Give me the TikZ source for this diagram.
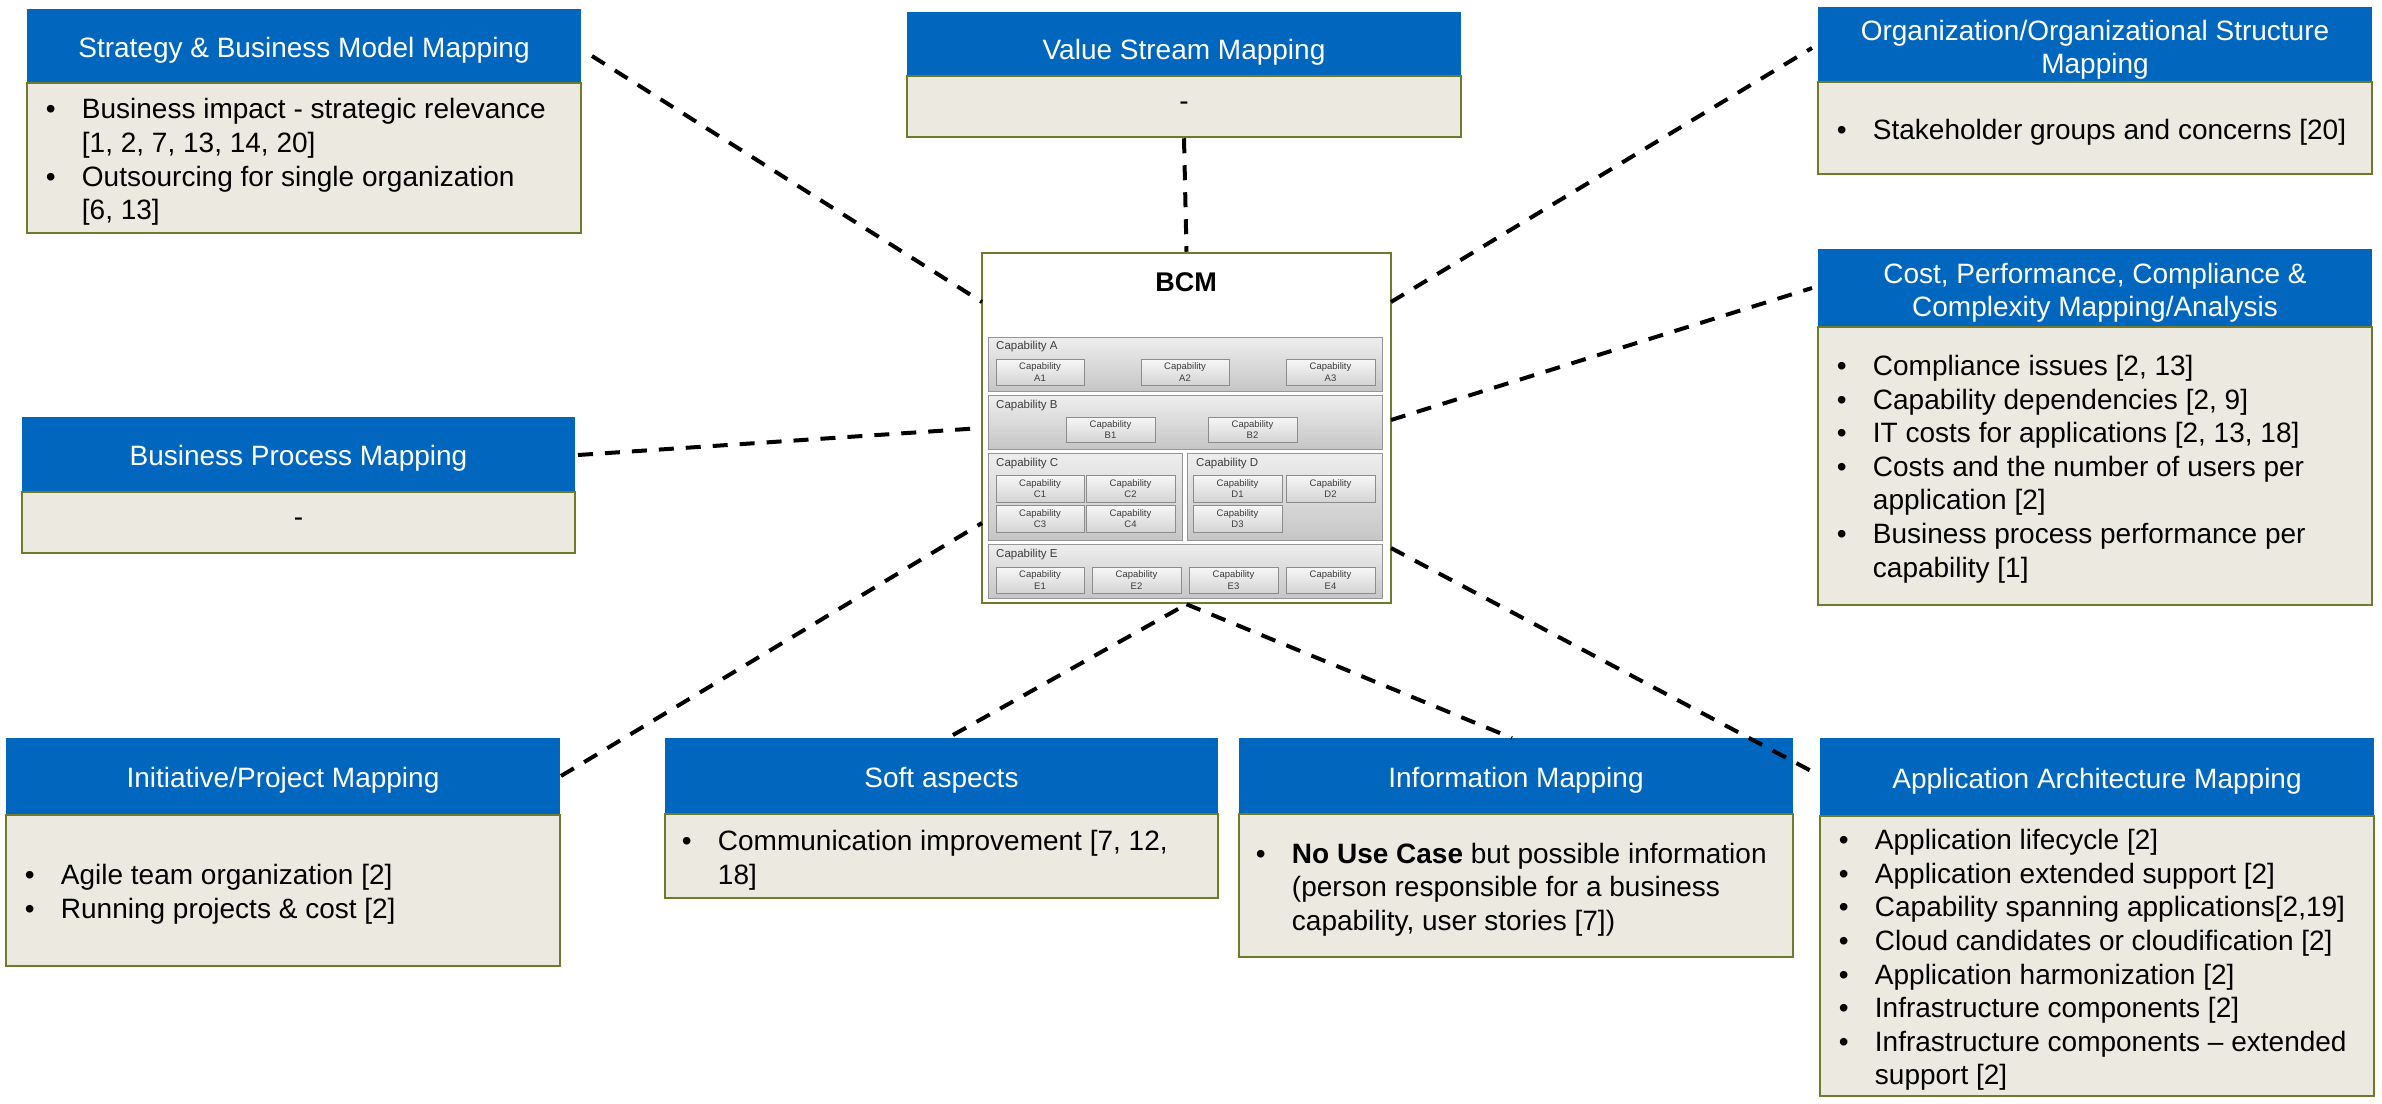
\documentclass[tikz,border=0pt]{standalone}
\usepackage{fontspec}
\setmainfont{Liberation Sans}
\usetikzlibrary{shadows}

\definecolor{hdrblue}{RGB}{0,102,190}
\definecolor{bodyfill}{RGB}{236,234,224}
\definecolor{olivebd}{RGB}{111,122,42}
\definecolor{rowtop}{RGB}{238,238,238}
\definecolor{rowbot}{RGB}{198,198,198}
\definecolor{rowline}{RGB}{150,150,150}
\definecolor{captop}{RGB}{247,247,247}
\definecolor{capbot}{RGB}{212,212,212}
\definecolor{capline}{RGB}{140,140,140}
\definecolor{captext}{RGB}{60,60,60}

% bullet and hanging indent for the item lists
\newcommand{\itembul}{\makebox[36pt][l]{\textbullet}}
\newcommand{\itemind}{\hspace*{36pt}}

% a panel: blue title bar above a framed body
% #1 name, #2 left, #3 right, #4 top, #5 title/body split, #6 bottom, #7 title, #8 title drop
\newcommand{\drawpanel}[8]{%
  \node[hdr, minimum width={#3-#2}, minimum height={#5-#4}] (#1-h) at ({(#2+#3)/2},{(#4+#5)/2}) {};
  \node[hdrtext] (#1-title) at ([yshift=-#8pt]#1-h.center) {#7};
  \node[bodybox, minimum width={#3-#2}, minimum height={#6-#5}] (#1) at ({(#2+#3)/2},{(#5+#6)/2}) {};
}

% a small capability tile inside the map
% #1 name, #2 left, #3 top, #4 right, #5 bottom, #6 id
\newcommand{\capbox}[6]{%
  \node[capin, minimum width={#4-#2}, minimum height={#5-#3}] (#1) at ({(#2+#4)/2},{(#3+#5)/2}) {Capability\\#6};
}

\begin{document}
\begin{tikzpicture}[x=1pt, y=-1pt,
  hdr/.style={fill=hdrblue, draw=none, inner sep=0pt},
  hdrtext/.style={text=white, inner sep=0pt, align=center,
    font=\fontsize{28}{33}\selectfont},
  bodybox/.style={fill=bodyfill, draw=olivebd, line width=2.5pt, inner sep=0pt},
  itemtext/.style={inner sep=0pt, align=left, text=black,
    font=\fontsize{28}{33.6}\selectfont},
  link/.style={draw=black, line width=4pt, dash pattern=on 15pt off 12pt},
  row/.style={draw=rowline, line width=0.8pt, top color=rowtop, bottom color=rowbot, inner sep=0pt},
  capin/.style={draw=capline, line width=0.6pt, top color=captop, bottom color=capbot,
    inner sep=0pt, align=center, text=captext, font=\fontsize{9.5}{11.5}\selectfont,
    drop shadow={shadow xshift=1.2pt, shadow yshift=-1.2pt, opacity=0.3, fill=black}},
  rowlabel/.style={anchor=west, inner sep=0pt, text=captext, font=\fontsize{11.5}{13}\selectfont}
]
\useasboundingbox (0,0) rectangle (2382,1103);
\fill[white] (0,0) rectangle (2382,1103);

% ---------- business capability map ----------
\node[draw=olivebd, line width=2.5pt, fill=white, minimum width=409, minimum height=350, inner sep=0pt]
  (bcm) at (1186.5,428) {};
\node[inner sep=0pt, font=\bfseries\fontsize{27}{30}\selectfont] (bcm-title) at (1186,282) {BCM};

\node[row, minimum width=394, minimum height=54] (capA) at (1185,364) {};
\node[row, minimum width=394, minimum height=54] (capB) at (1185,422) {};
\node[row, minimum width=194, minimum height=87] (capC) at (1085,496.5) {};
\node[row, minimum width=195, minimum height=87] (capD) at (1284.5,496.5) {};
\node[row, minimum width=394, minimum height=54] (capE) at (1185,571) {};

\node[rowlabel] (capA-l) at (996,347) {Capability A};
\node[rowlabel] (capB-l) at (996,406) {Capability B};
\node[rowlabel] (capC-l) at (996,464) {Capability C};
\node[rowlabel] (capD-l) at (1196,464) {Capability D};
\node[rowlabel] (capE-l) at (996,555) {Capability E};

\capbox{capA1}{996}{359}{1084}{385}{A1}
\capbox{capA2}{1141}{359}{1229}{385}{A2}
\capbox{capA3}{1286}{359}{1375}{385}{A3}
\capbox{capB1}{1066}{417}{1155}{442}{B1}
\capbox{capB2}{1208}{417}{1297}{442}{B2}
\capbox{capC1}{996}{475}{1084}{502}{C1}
\capbox{capC2}{1086}{475}{1175}{502}{C2}
\capbox{capC3}{996}{505}{1084}{532}{C3}
\capbox{capC4}{1086}{505}{1175}{532}{C4}
\capbox{capD1}{1193}{475}{1282}{502}{D1}
\capbox{capD2}{1286}{475}{1375}{502}{D2}
\capbox{capD3}{1193}{505}{1282}{532}{D3}
\capbox{capE1}{996}{567}{1084}{593}{E1}
\capbox{capE2}{1092}{567}{1181}{593}{E2}
\capbox{capE3}{1189}{567}{1278}{593}{E3}
\capbox{capE4}{1286}{567}{1375}{593}{E4}

% ---------- surrounding panels ----------
\drawpanel{strat}{27}{581}{9}{83}{233}{Strategy \& Business Model Mapping}{4}
\drawpanel{vsm}{907}{1461}{12}{76}{137}{Value Stream Mapping}{8}
\drawpanel{org}{1818}{2372}{7}{82}{174}{Organization/Organizational Structure\\Mapping}{5}
\drawpanel{cost}{1818}{2372}{249}{327}{605}{Cost, Performance, Compliance \&\\Complexity Mapping/Analysis}{5}
\drawpanel{bpm}{22}{575}{417}{492}{553}{Business Process Mapping}{4}
\drawpanel{init}{6}{560}{738}{815}{966}{Initiative/Project Mapping}{4}
\drawpanel{soft}{665}{1218}{738}{814}{898}{Soft aspects}{4}
\drawpanel{info}{1239}{1793}{738}{814}{957}{Information Mapping}{4}
\drawpanel{app}{1820}{2374}{738}{816}{1096}{Application Architecture Mapping}{4}

\node[itemtext, anchor=west] (strat-t) at ([xshift=20pt, yshift=-4pt]strat.west)
  {\itembul Business impact - strategic relevance\\
   \itemind [1, 2, 7, 13, 14, 20]\\
   \itembul Outsourcing for single organization\\
   \itemind [6, 13]};
\node[itemtext] (vsm-t) at (vsm.center) {-};
\node[itemtext, anchor=west] (org-t) at ([xshift=20pt, yshift=-4pt]org.west)
  {\itembul Stakeholder groups and concerns [20]};
\node[itemtext, anchor=west] (cost-t) at ([xshift=20pt, yshift=-3pt]cost.west)
  {\itembul Compliance issues [2, 13]\\
   \itembul Capability dependencies [2, 9]\\
   \itembul IT costs for applications [2, 13, 18]\\
   \itembul Costs and the number of users per\\
   \itemind application [2]\\
   \itembul Business process performance per\\
   \itemind capability [1]};
\node[itemtext] (bpm-t) at (bpm.center) {-};
\node[itemtext, anchor=west] (init-t) at ([xshift=20pt, yshift=-4pt]init.west)
  {\itembul Agile team organization [2]\\
   \itembul Running projects \& cost [2]};
\node[itemtext, anchor=west] (soft-t) at ([xshift=18pt, yshift=-4pt]soft.west)
  {\itembul Communication improvement [7, 12,\\
   \itemind 18]};
\node[itemtext, anchor=west] (info-t) at ([xshift=18pt, yshift=-4pt]info.west)
  {\itembul \textbf{No Use Case} but possible information\\
   \itemind (person responsible for a business\\
   \itemind capability, user stories [7])};
\node[itemtext, anchor=west] (app-t) at ([xshift=20pt, yshift=-4pt]app.west)
  {\itembul Application lifecycle [2]\\
   \itembul Application extended support [2]\\
   \itembul Capability spanning applications[2,19]\\
   \itembul Cloud candidates or cloudification [2]\\
   \itembul Application harmonization [2]\\
   \itembul Infrastructure components [2]\\
   \itembul Infrastructure components -- extended\\
   \itemind support [2]};

% ---------- connector end points ----------
\coordinate (strat-out) at (592,56);
\coordinate (bcm-w1) at (982,302);
\coordinate (bpm-out) at (578,455);
\coordinate (bcm-w2) at (982,428);
\coordinate (init-out) at (561,776);
\coordinate (bcm-w3) at (982,523);
\coordinate (org-in) at (1812,48);
\coordinate (bcm-e1) at (1391,302);
\coordinate (cost-in) at (1812,288);
\coordinate (bcm-e2) at (1391,420);
\coordinate (app-in) at (1815,773);
\coordinate (bcm-e3) at (1391,548);
\coordinate (soft-in) at (953,735);
\coordinate (info-in) at (1512,738);

% ---------- dashed links ----------
\draw[link] (strat-out) -- (bcm-w1);
\draw[link] (vsm.south) -- (bcm.north);
\draw[link] (bcm-e1) -- (org-in);
\draw[link] (bcm-e2) -- (cost-in);
\draw[link] (bpm-out) -- (bcm-w2);
\draw[link] (init-out) -- (bcm-w3);
\draw[link] (bcm-e3) -- (app-in);
\draw[link] (soft-in) -- (bcm.south);
\draw[link] (bcm.south) -- (info-in);
\end{tikzpicture}
\end{document}
